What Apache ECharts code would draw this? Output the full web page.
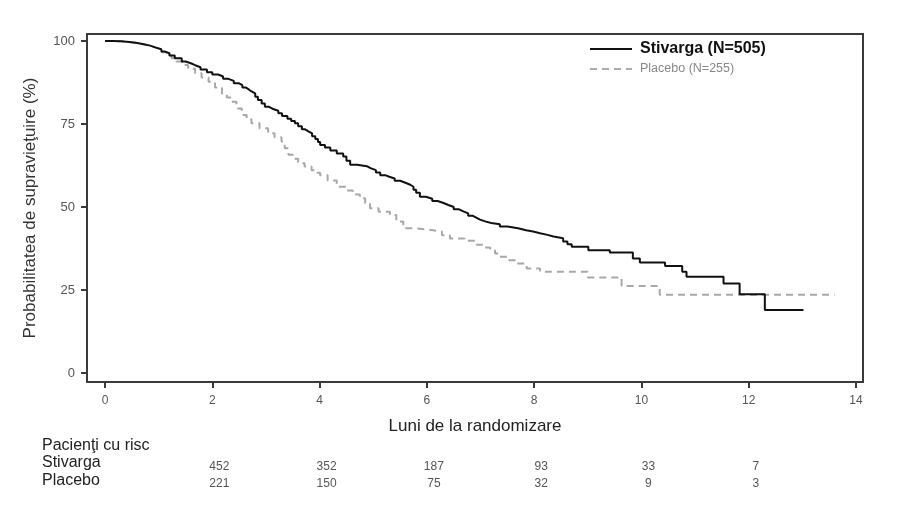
<!DOCTYPE html>
<html>
<head>
<meta charset="utf-8">
<script src="https://cdn.jsdelivr.net/npm/echarts@6/dist/echarts.min.js"></script>
<style>
  html, body { margin: 0; padding: 0; background: #fff; }
  #chart { width: 909px; height: 516px; }
</style>
</head>
<body>
<div id="chart"></div>
<script>
// Kaplan-Meier curves (months, survival %)
const stivargaMonths = [0, 0.15, 0.3, 0.45, 0.6, 0.72, 0.84, 0.95, 1.05, 1.12, 1.2, 1.3, 1.43, 1.5, 1.6, 1.68, 1.78, 1.9, 2.0, 2.11,
    2.2, 2.3, 2.4, 2.49, 2.56, 2.62, 2.68, 2.73, 2.8, 2.85, 2.92, 2.98, 3.05, 3.12, 3.23, 3.3, 3.4, 3.47, 3.54, 3.6,
    3.67, 3.73, 3.79, 3.86, 3.92, 3.97, 4.01, 4.1, 4.2, 4.32, 4.44, 4.5, 4.57, 4.7, 4.88, 4.95, 5.05, 5.13, 5.22, 5.3,
    5.4, 5.5, 5.6, 5.69, 5.75, 5.8, 5.87, 5.98, 6.1, 6.2, 6.31, 6.4, 6.5, 6.6, 6.68, 6.77, 6.85, 6.92, 6.99, 7.1,
    7.2, 7.36, 7.5, 7.7, 7.85, 7.98, 8.11, 8.25, 8.36, 8.54, 8.62, 8.7, 9.01, 9.41, 9.84, 9.97, 10.44, 10.76, 10.84, 11.53,
    11.83, 12.3, 13.02];
const stivargaSurv = [100, 99.9, 99.7, 99.4, 99.0, 98.6, 98.0, 97.5, 96.8, 96.3, 95.6, 94.8, 93.8, 93.3, 92.7, 92.1, 91.4, 90.6, 89.9, 89.3,
    88.6, 88.0, 87.3, 86.7, 86.0, 85.4, 84.8, 84.2, 83.2, 82.2, 81.2, 80.2, 79.6, 79.0, 78.2, 77.4, 76.6, 75.9, 75.2, 74.3,
    73.4, 72.8, 72.2, 71.3, 70.5, 69.6, 68.7, 67.9, 67.0, 66.1, 65.2, 63.9, 62.7, 62.3, 61.7, 61.1, 60.4, 59.6, 59.1, 58.6,
    57.9, 57.3, 56.7, 56.1, 55.2, 54.3, 53.1, 52.5, 51.8, 51.2, 50.6, 50.0, 49.3, 48.7, 48.1, 47.4, 46.8, 46.2, 45.6, 45.2,
    44.8, 44.1, 43.6, 43.0, 42.6, 42.1, 41.6, 41.1, 40.6, 39.6, 38.8, 38.0, 37.0, 36.3, 34.5, 33.3, 32.2, 30.5, 29.0, 27.0,
    23.7, 19.0, 19.0];

const placeboMonths = [0, 0.15, 0.3, 0.45, 0.6, 0.72, 0.84, 0.95, 1.05, 1.15, 1.24, 1.33, 1.43, 1.55, 1.68, 1.8, 1.93, 2.05, 2.18, 2.27,
    2.36, 2.45, 2.55, 2.64, 2.73, 2.88, 3.04, 3.16, 3.29, 3.35, 3.42, 3.5, 3.6, 3.72, 3.85, 3.93, 4.01, 4.15, 4.32, 4.5,
    4.62, 4.75, 4.85, 4.94, 5.1, 5.31, 5.43, 5.56, 5.8, 6.12, 6.28, 6.43, 6.7, 6.93, 7.05, 7.18, 7.27, 7.36, 7.52, 7.68,
    7.86, 8.11, 9.0, 9.63, 10.34, 13.6];
const placeboSurv = [100, 99.9, 99.7, 99.4, 99.0, 98.6, 98.0, 97.4, 96.6, 95.6, 94.8, 93.8, 92.8, 91.6, 90.3, 89.0, 87.7, 86.0, 84.2, 83.0,
    81.7, 79.7, 77.7, 76.4, 75.2, 73.7, 72.2, 71.0, 69.7, 67.7, 65.7, 64.5, 63.2, 62.2, 61.1, 60.3, 59.6, 58.0, 56.1, 55.0,
    53.8, 52.6, 51.1, 49.6, 48.6, 47.6, 45.6, 43.6, 43.0, 42.6, 41.5, 40.5, 39.8, 38.6, 37.8, 37.0, 36.0, 35.0, 34.0, 33.0,
    31.5, 30.5, 28.8, 26.2, 23.6, 23.6];

const xTicks = [0, 2, 4, 6, 8, 10, 12, 14];
const yTicks = [0, 25, 50, 75, 100];

// Pacienţi cu risc
const riskTimes = [2, 4, 6, 8, 10, 12];
const riskStivarga = [452, 352, 187, 93, 33, 7];
const riskPlacebo = [221, 150, 75, 32, 9, 3];

const FONT = "'Liberation Sans', Arial, sans-serif";
const AXIS_COLOR = '#3a3a3a';

const chart = echarts.init(document.getElementById('chart'));

chart.setOption({
    animation: false,
    backgroundColor: '#fff',
    textStyle: { fontFamily: FONT },
    grid: {
        left: 87, top: 34, right: 46, bottom: 134,
        show: true, borderColor: AXIS_COLOR, borderWidth: 2
    },
    xAxis: {
        type: 'value',
        min: -0.336, max: 14.13,
        name: 'Luni de la randomizare',
        nameLocation: 'middle',
        nameGap: 36,
        nameTextStyle: { fontSize: 17, color: '#222', fontFamily: FONT },
        axisLine: { show: true, onZero: false, lineStyle: { color: AXIS_COLOR, width: 2 } },
        axisTick: { show: true, customValues: xTicks, length: 6, lineStyle: { color: AXIS_COLOR, width: 2 } },
        axisLabel: { customValues: xTicks, margin: 13, fontSize: 12, color: '#555' },
        splitLine: { show: false }
    },
    yAxis: {
        type: 'value',
        min: -2.7, max: 102.1,
        name: 'Probabilitatea de supravieţuire (%)',
        nameLocation: 'middle',
        nameGap: 48,
        nameTextStyle: { fontSize: 17, color: '#333', fontFamily: FONT },
        axisLine: { show: true, onZero: false, lineStyle: { color: AXIS_COLOR, width: 2 } },
        axisTick: { show: true, customValues: yTicks, length: 6, lineStyle: { color: AXIS_COLOR, width: 2 } },
        axisLabel: { customValues: yTicks, margin: 12, fontSize: 13, color: '#555' },
        splitLine: { show: false }
    },
    series: [
        {
            name: 'Placebo (N=255)',
            type: 'line',
            step: 'end',
            symbol: 'none',
            data: placeboMonths.map((t, i) => [t, placeboSurv[i]]),
            lineStyle: { color: '#a8a8a8', width: 2, type: [7, 5] }
        },
        {
            name: 'Stivarga (N=505)',
            type: 'line',
            step: 'end',
            symbol: 'none',
            data: stivargaMonths.map((t, i) => [t, stivargaSurv[i]]),
            lineStyle: { color: '#111', width: 2 }
        }
    ]
});

// legenda + tabelul cu pacienţi la risc
const graphics = [
    { type: 'line', shape: { x1: 590, y1: 49, x2: 632, y2: 49 }, style: { stroke: '#111', lineWidth: 2 } },
    { type: 'text', x: 640, y: 49, style: { text: 'Stivarga (N=505)', font: 'bold 16px ' + FONT, fill: '#111', verticalAlign: 'middle' } },
    { type: 'line', shape: { x1: 590, y1: 69, x2: 632, y2: 69 }, style: { stroke: '#aaa', lineWidth: 2, lineDash: [7, 5] } },
    { type: 'text', x: 640, y: 69, style: { text: 'Placebo (N=255)', font: '12.5px ' + FONT, fill: '#888', verticalAlign: 'middle' } },
    { type: 'text', x: 42, y: 446, style: { text: 'Pacienţi cu risc', font: '16px ' + FONT, fill: '#222', verticalAlign: 'middle' } },
    { type: 'text', x: 42, y: 463, style: { text: 'Stivarga', font: '16px ' + FONT, fill: '#222', verticalAlign: 'middle' } },
    { type: 'text', x: 42, y: 481, style: { text: 'Placebo', font: '16px ' + FONT, fill: '#222', verticalAlign: 'middle' } }
];
riskTimes.forEach((t, i) => {
    const x = chart.convertToPixel({ xAxisIndex: 0 }, t) + 7;
    graphics.push({ type: 'text', x: x, y: 467, style: { text: String(riskStivarga[i]), font: '12px ' + FONT, fill: '#555', align: 'center', verticalAlign: 'middle' } });
    graphics.push({ type: 'text', x: x, y: 484, style: { text: String(riskPlacebo[i]), font: '12px ' + FONT, fill: '#555', align: 'center', verticalAlign: 'middle' } });
});
chart.setOption({ graphic: graphics });

window.addEventListener('resize', () => chart.resize());
</script>
</body>
</html>
